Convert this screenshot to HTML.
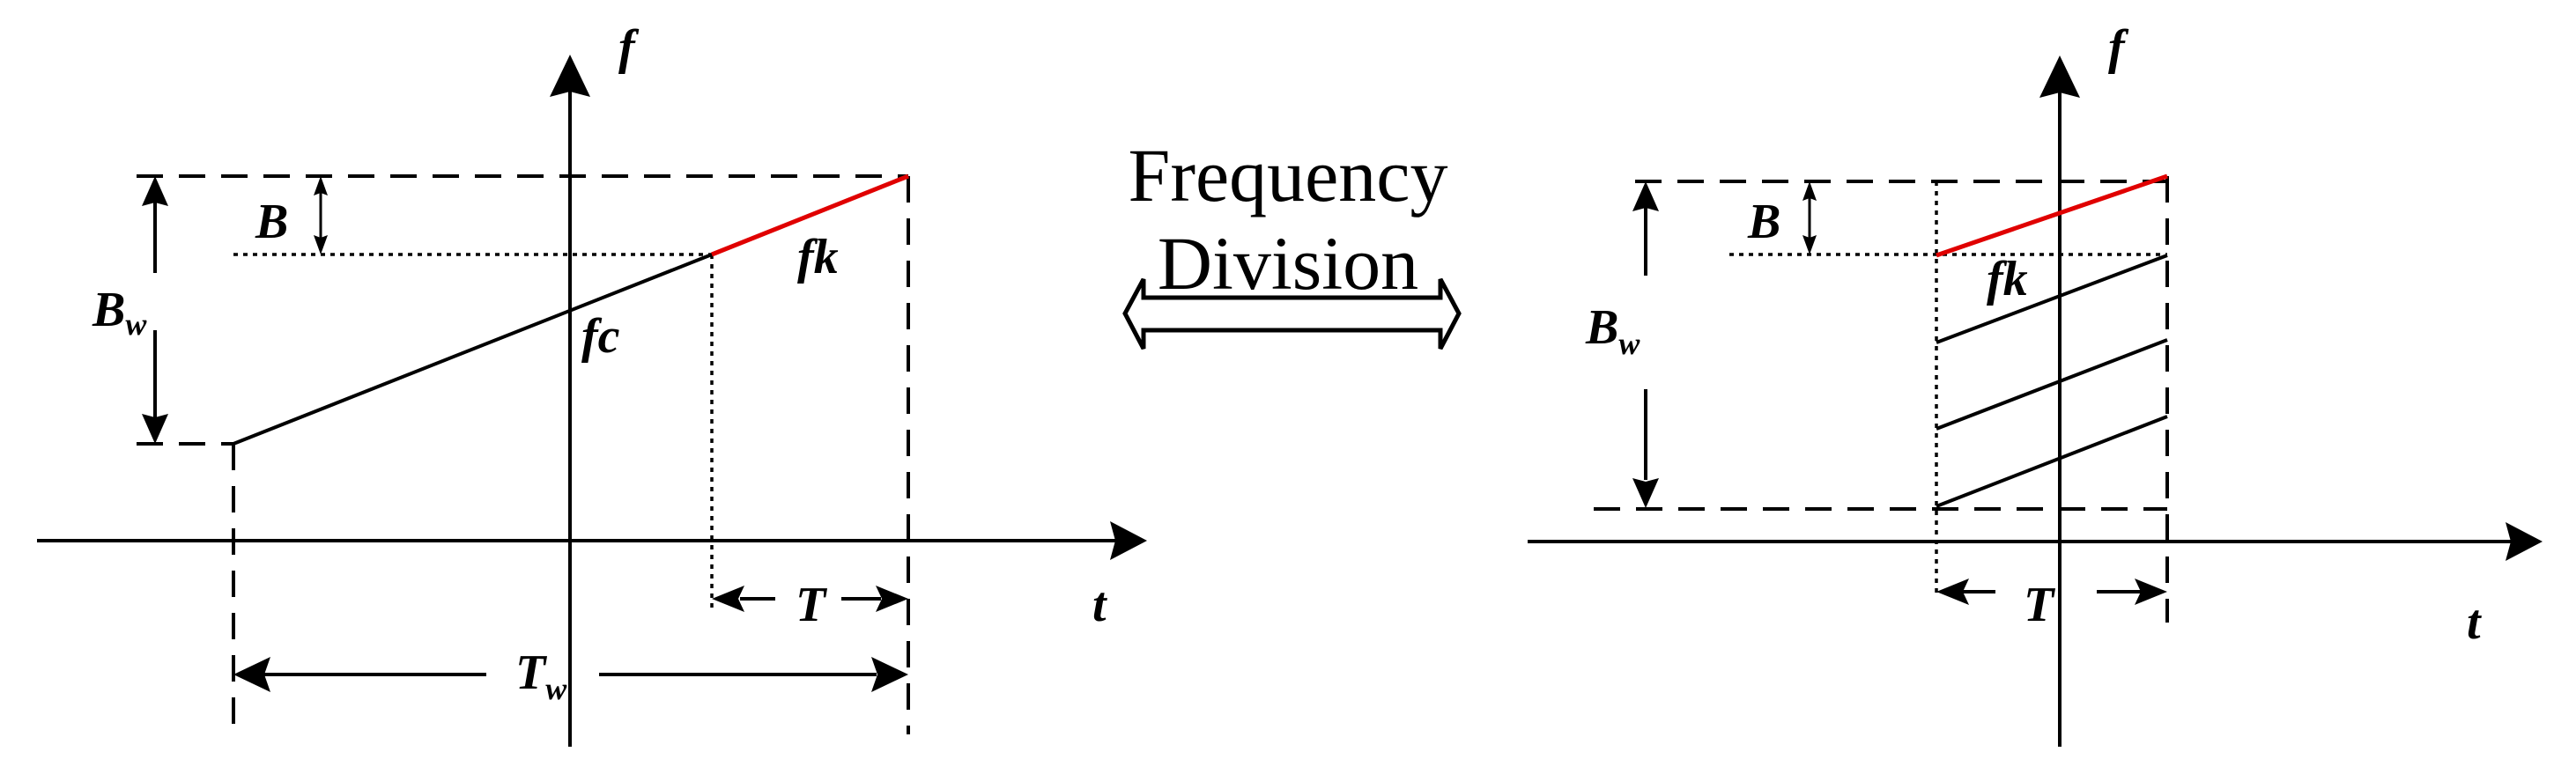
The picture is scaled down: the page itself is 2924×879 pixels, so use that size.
<!DOCTYPE html>
<html><head><meta charset="utf-8"><style>
html,body{margin:0;padding:0;background:#fff;overflow:hidden;}
svg{display:block;}
.l{font-family:"Liberation Serif",serif;font-style:italic;font-weight:bold;font-size:56px;fill:#000;}
.s{font-size:36px;}
</style></head><body>
<svg width="2924" height="879" viewBox="0 0 2924 879" xmlns="http://www.w3.org/2000/svg">
<defs>
<filter id="gl" x="-20%" y="-200%" width="140%" height="500%"><feGaussianBlur stdDeviation="7"/></filter>
</defs>
<g stroke="#000" fill="none" stroke-width="4">
<!-- LEFT PANEL -->
<line x1="647" y1="100" x2="647" y2="848"/>
<line x1="42" y1="614" x2="1270" y2="614"/>
<g stroke-dasharray="30,18">
<line x1="155" y1="200" x2="1031" y2="200"/>
<line x1="1031" y1="200" x2="1031" y2="834"/>
<line x1="265" y1="504" x2="265" y2="826"/>
<line x1="155" y1="504" x2="265" y2="504"/>
</g>
<g stroke-dasharray="5,6" stroke-width="3.5">
<line x1="265" y1="289" x2="808" y2="289"/>
<line x1="808" y1="289" x2="808" y2="696"/>
</g>
<line x1="265" y1="504" x2="808" y2="289"/>
<line x1="808" y1="289" x2="1031" y2="200" stroke="#e00000" stroke-width="5"/>
<line x1="364" y1="210" x2="364" y2="279" stroke-width="3"/>
<line x1="176" y1="225" x2="176" y2="310"/>
<line x1="176" y1="375" x2="176" y2="475"/>
<line x1="840" y1="680" x2="880" y2="680"/>
<line x1="955" y1="680" x2="1000" y2="680"/>
<line x1="300" y1="766" x2="552" y2="766"/>
<line x1="680" y1="766" x2="995" y2="766"/>
<!-- RIGHT PANEL -->
<line x1="2338" y1="100" x2="2338" y2="848"/>
<line x1="1734" y1="615" x2="2850" y2="615"/>
<g stroke-dasharray="30,18">
<line x1="1856" y1="206" x2="2460" y2="206"/>
<line x1="1809" y1="578" x2="2460" y2="578"/>
<line x1="2460" y1="200" x2="2460" y2="707"/>
</g>
<g stroke-dasharray="5,6" stroke-width="3.5">
<line x1="2198" y1="206" x2="2198" y2="679"/>
<line x1="1963" y1="289" x2="2460" y2="289"/>
</g>
<line x1="2198" y1="290" x2="2460" y2="200" stroke="#e00000" stroke-width="5"/>
<line x1="2198" y1="389" x2="2460" y2="290"/>
<line x1="2198" y1="487" x2="2460" y2="386"/>
<line x1="2198" y1="575" x2="2460" y2="473"/>
<line x1="2054" y1="216" x2="2054" y2="279" stroke-width="3"/>
<line x1="1868" y1="230" x2="1868" y2="313"/>
<line x1="1868" y1="442" x2="1868" y2="545"/>
<line x1="2225" y1="672" x2="2265" y2="672"/>
<line x1="2380" y1="672" x2="2430" y2="672"/>
</g>
<g fill="#000">
<!-- axis arrowheads -->
<polygon points="647,62 624,110 647,104 670,110"/>
<polygon points="1302,614 1260,592 1266,614 1260,636"/>
<polygon points="2338,63 2315,111 2338,105 2361,111"/>
<polygon points="2886,615 2844,593 2850,615 2844,637"/>
<!-- left dims -->
<polygon points="364,200 356,222 364,219 372,222"/>
<polygon points="364,289 356,267 364,270 372,267"/>
<polygon points="176,200 161,234 176,230 191,234"/>
<polygon points="176,504 161,470 176,474 191,470"/>
<polygon points="808,680 845,665 838,680 845,695"/>
<polygon points="1031,680 994,665 1001,680 994,695"/>
<polygon points="265,766 307,746 300,766 307,786"/>
<polygon points="1031,766 989,746 996,766 989,786"/>
<!-- right dims -->
<polygon points="2054,206 2046,228 2054,225 2062,228"/>
<polygon points="2054,289 2046,267 2054,270 2062,267"/>
<polygon points="1868,206 1853,240 1868,236 1883,240"/>
<polygon points="1868,577 1853,543 1868,547 1883,543"/>
<polygon points="2198,672 2235,657 2228,672 2235,687"/>
<polygon points="2460,672 2423,657 2430,672 2423,687"/>
</g>
<!-- double arrow -->
<path d="M1300,400 L1640,400" stroke="#9fb8dc" stroke-width="14" opacity="0.6" filter="url(#gl)" fill="none"/>
<path d="M1298,338 L1635,338 L1635,317 L1656,356 L1635,396 L1635,375 L1298,375 L1298,396 L1277,356 L1298,317 Z" stroke="#000" stroke-width="5" fill="#fff"/>
<text x="1462" y="228" text-anchor="middle" font-family="Liberation Serif,serif" font-size="86" fill="#000">Frequency</text>
<text x="1462" y="328" text-anchor="middle" font-family="Liberation Serif,serif" font-size="86" fill="#000">Division</text>
<!-- labels left -->
<text class="l" x="702" y="72">f</text>
<text class="l" x="290" y="270">B</text>
<text class="l" x="105" y="370">B<tspan class="s" dy="10">w</tspan></text>
<text class="l" x="660" y="400">fc</text>
<text class="l" x="905" y="310">fk</text>
<text class="l" x="903" y="705">T</text>
<text class="l" x="585" y="782">T<tspan class="s" dy="12">w</tspan></text>
<text class="l" x="1240" y="705">t</text>
<!-- labels right -->
<text class="l" x="2393" y="72">f</text>
<text class="l" x="1984" y="270">B</text>
<text class="l" x="1800" y="390">B<tspan class="s" dy="12">w</tspan></text>
<text class="l" x="2255" y="335">fk</text>
<text class="l" x="2297" y="705">T</text>
<text class="l" x="2800" y="725">t</text>
</svg>
</body></html>
